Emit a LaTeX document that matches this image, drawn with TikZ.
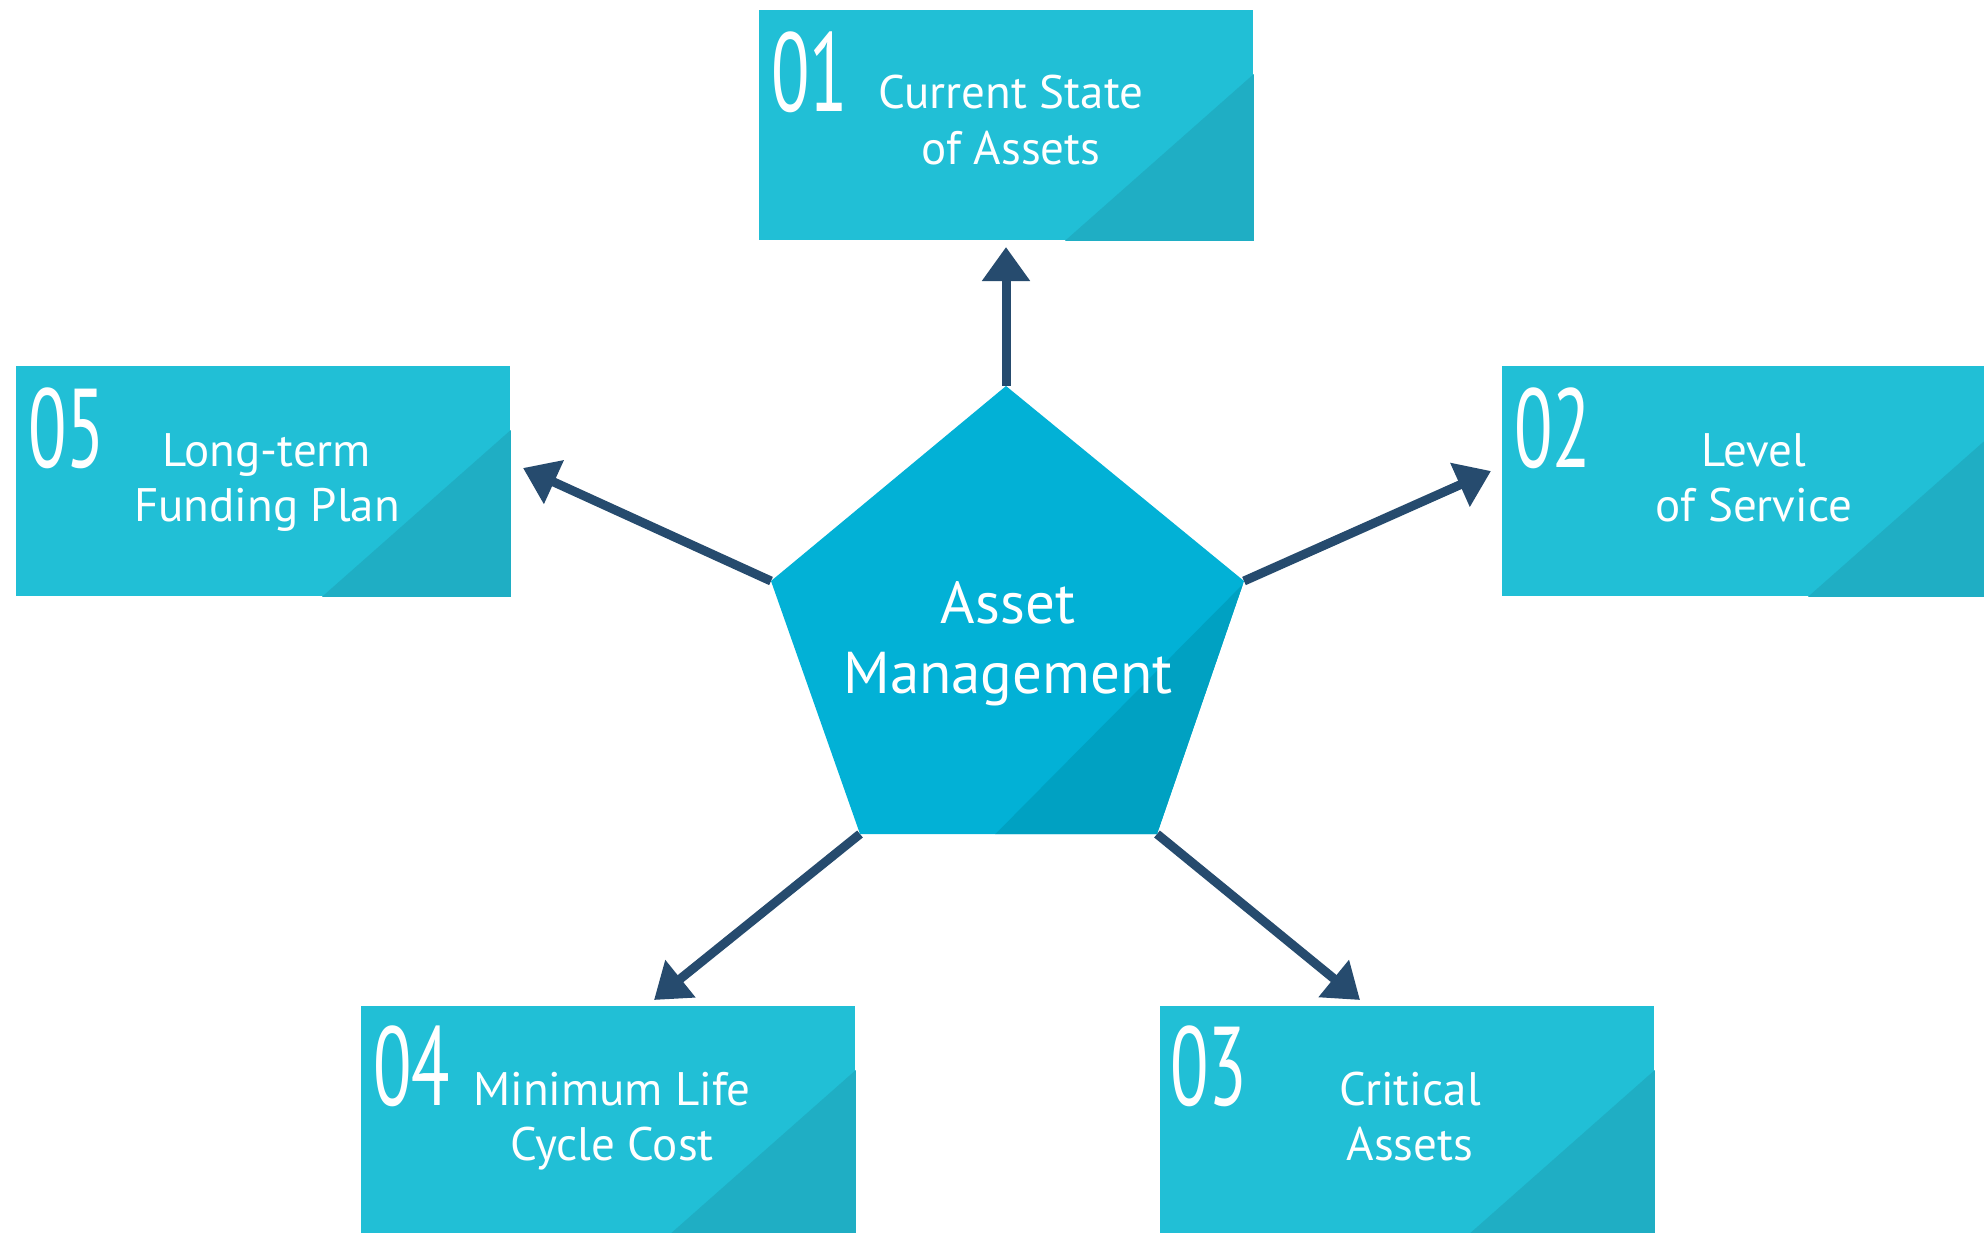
\documentclass[tikz,border=0pt]{standalone}
\usepackage{fontspec}
\setmainfont{PT Sans}
\newfontfamily\numfont[FakeStretch=0.63]{PT Sans}
\usetikzlibrary{arrows.meta,calc}
\definecolor{boxc}{HTML}{21BFD6}
\definecolor{boxd}{HTML}{1FAEC4}
\definecolor{pentc}{HTML}{02B1D6}
\definecolor{pentd}{HTML}{00A1C2}
\definecolor{arrc}{HTML}{264B6E}
\begin{document}
\begin{tikzpicture}[x=0.5pt,y=-0.5pt,
  card/.style={rectangle, fill=boxc, minimum width=247pt, minimum height=115pt, anchor=north west, inner sep=0pt},
  numtxt/.style={text=white, font=\numfont\fontsize{56}{56}\selectfont, inner sep=0pt, anchor=base west},
  lbl/.style={text=white, font=\fontsize{23.5}{28}\selectfont, inner sep=0pt, anchor=base},
  biglbl/.style={text=white, font=\fontsize{29.5}{34}\selectfont, inner sep=0pt, anchor=base},
  conn/.style={draw=arrc, line width=4.5pt, -{Triangle[length=17pt,width=23pt]}}]
\useasboundingbox (0,0) rectangle (1984,1232);
\clip (0,0) rectangle (1984,1232);
\fill[white] (0,0) rectangle (1984,1232);

% boxes
\foreach \nm/\px/\py in {b01/759/10, b02/1502/366, b03/1160/1006, b04/361/1006, b05/16/366}{
  \node[card] (\nm) at (\px,\py) {};
  \fill[boxd] ($(\nm.north east)+(0,64)$) -- (\nm.south east) -- ($(\nm.south west)+(306,0)$) -- cycle;
}

% numbers and labels
\node[numtxt] (n01) at ($(b01.north west)+(12,101)$) {01};
\node[lbl] (l01a) at ($(b01.north west)+(252,98)$) {Current State};
\node[lbl] (l01b) at ($(b01.north west)+(252,154)$) {of Assets};

\node[numtxt] (n02) at ($(b02.north west)+(12,101)$) {02};
\node[lbl] (l02a) at ($(b02.north west)+(252,100)$) {Level};
\node[lbl] (l02b) at ($(b02.north west)+(252,155)$) {of Service};

\node[numtxt] (n03) at ($(b03.north west)+(10,99)$) {03};
\node[lbl] (l03a) at ($(b03.north west)+(250,99)$) {Critical};
\node[lbl] (l03b) at ($(b03.north west)+(250,154)$) {Assets};

\node[numtxt] (n04) at ($(b04.north west)+(12,99)$) {04};
\node[lbl] (l04a) at ($(b04.north west)+(251,99)$) {Minimum Life};
\node[lbl] (l04b) at ($(b04.north west)+(251,154)$) {Cycle Cost};

\node[numtxt] (n05) at ($(b05.north west)+(12,101)$) {05};
\node[lbl] (l05a) at ($(b05.north west)+(251,100)$) {Long-term};
\node[lbl] (l05b) at ($(b05.north west)+(251,155)$) {Funding Plan};

% pentagon vertices
\coordinate (pT) at (1006,386);
\coordinate (pUL) at (771,581);
\coordinate (pUR) at (1244,581);
\coordinate (pLR) at (1157,834);
\coordinate (pLL) at (860,834);

% arrow tips
\coordinate (t01) at (1006,247);
\coordinate (t02) at (1491,471);
\coordinate (t03) at (1360,1000);
\coordinate (t04) at (654,1000);
\coordinate (t05) at (523,468);

\draw[conn] (pT) -- (t01);
\draw[conn] (pUR) -- (t02);
\draw[conn] (pLR) -- (t03);
\draw[conn] (pLL) -- (t04);
\draw[conn] (pUL) -- (t05);

% pentagon
\fill[pentc] (pT) -- (pUR) -- (pLR) -- (pLL) -- (pUL) -- cycle;
\begin{scope}
  \clip (pT) -- (pUR) -- (pLR) -- (pLL) -- (pUL) -- cycle;
  \fill[pentd] (1252,575) -- (1300,575) -- (1300,900) -- (930,900) -- cycle;
\end{scope}
\node[biglbl] (c1) at (1008,623) {Asset};
\node[biglbl] (c2) at (1008,693) {Management};
\end{tikzpicture}
\end{document}
